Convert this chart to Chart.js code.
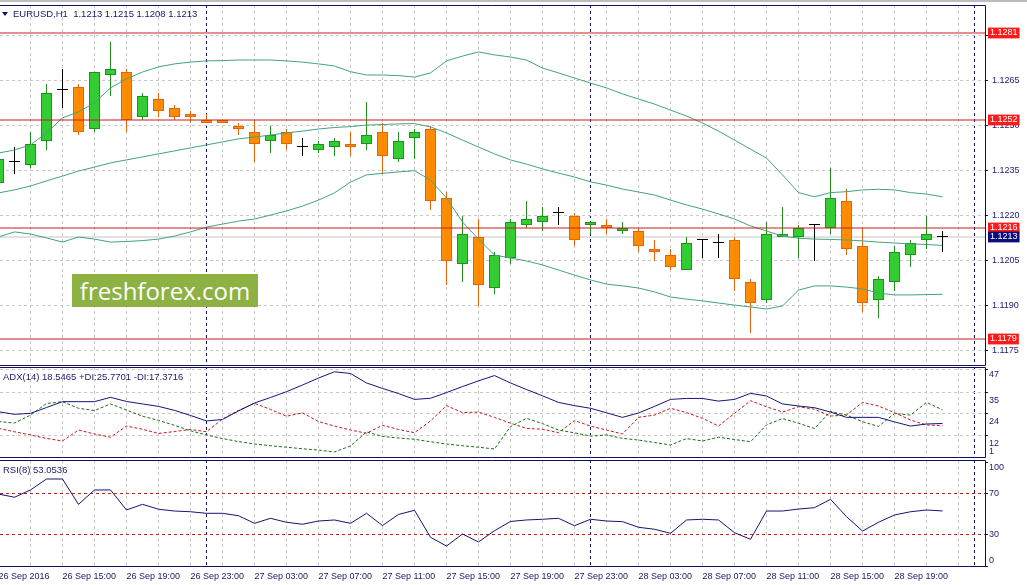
<!DOCTYPE html>
<html><head><meta charset="utf-8">
<script src="https://cdn.jsdelivr.net/npm/chart.js@4.4.1/dist/chart.umd.min.js"></script>
<style>
html,body{margin:0;padding:0;background:#fff;width:1027px;height:585px;overflow:hidden}
.pane{position:absolute;left:0}
canvas{display:block}
.cap{position:absolute;font:9.5px 'Liberation Sans',Arial,sans-serif;color:#1a1a6a;white-space:nowrap;line-height:11px}
</style></head><body>
<div style="position:absolute;left:0;top:0;width:1027px;height:2px;background:#bcbcbc"></div>
<div class="pane" style="top:0"><canvas id="main" width="1027" height="366"></canvas></div>
<div class="pane" style="top:366px"><canvas id="adx" width="1027" height="92"></canvas></div>
<div class="pane" style="top:458px"><canvas id="rsi" width="1027" height="127"></canvas></div>
<div style="position:absolute;left:2px;top:12px;width:0;height:0;border-left:3px solid transparent;border-right:3px solid transparent;border-top:4px solid #10105e"></div>
<div class="cap" style="left:13px;top:8px">EURUSD,H1&nbsp; 1.1213 1.1215 1.1208 1.1213</div>
<div class="cap" style="left:3px;top:371px">ADX(14) 18.5465 +DI:25.7701 -DI:17.3716</div>
<div class="cap" style="left:3px;top:464px">RSI(8) 53.0536</div>
<div style="position:absolute;left:72px;top:274px;width:186px;height:33px;background:#8db142;color:#fff;font:24px 'Open Sans',sans-serif;line-height:33px;text-align:center">freshforex.com</div>
<script>
// ---------- data ----------
const TIME_LABELS = ['26 Sep 2016','26 Sep 15:00','26 Sep 19:00','26 Sep 23:00','27 Sep 03:00','27 Sep 07:00','27 Sep 11:00','27 Sep 15:00','27 Sep 19:00','27 Sep 23:00','28 Sep 03:00','28 Sep 07:00','28 Sep 11:00','28 Sep 15:00','28 Sep 19:00'];
const OPEN  = [1.1231,1.1238,1.1237,1.1245,1.1262,1.1263,1.1249,1.1267,1.1268,1.1253,1.1259,1.1256,1.1254,1.1252,1.1252,1.1250,1.1248,1.1245,1.1248,1.1243,1.1242,1.1243,1.1244,1.1244,1.1248,1.1239,1.1246,1.1249,1.1226,1.1204,1.1213,1.1196,1.1206,1.1217,1.1218,1.1221,1.1220,1.1217,1.1217,1.1215,1.1215,1.1209,1.1207,1.1202,1.1212,1.1211,1.1212,1.1198,1.1192,1.1213,1.1213,1.1217,1.1216,1.1225,1.1210,1.1192,1.1198,1.1207,1.1212,1.1213];
const HIGH  = [1.1241,1.1243,1.1248,1.1264,1.1269,1.1264,1.1268,1.1278,1.1269,1.1261,1.1261,1.1257,1.1255,1.1254,1.1252,1.1251,1.1252,1.1250,1.1249,1.1246,1.1245,1.1246,1.1248,1.1258,1.1251,1.1248,1.1249,1.1250,1.1228,1.1220,1.1219,1.1208,1.1219,1.1225,1.1223,1.1223,1.1221,1.1218,1.1219,1.1218,1.1216,1.1212,1.1209,1.1213,1.1212,1.1214,1.1213,1.1199,1.1218,1.1223,1.1217,1.1217,1.1236,1.1229,1.1216,1.1200,1.1210,1.1212,1.1220,1.1215];
const LOW   = [1.1230,1.1234,1.1236,1.1242,1.1256,1.1247,1.1248,1.1260,1.1248,1.1252,1.1253,1.1252,1.1251,1.1251,1.1251,1.1247,1.1238,1.1241,1.1242,1.1240,1.1241,1.1240,1.1240,1.1242,1.1234,1.1238,1.1239,1.1222,1.1197,1.1198,1.1190,1.1194,1.1204,1.1216,1.1215,1.1217,1.1210,1.1214,1.1214,1.1214,1.1208,1.1205,1.1202,1.1202,1.1206,1.1206,1.1195,1.1181,1.1191,1.1213,1.1206,1.1205,1.1214,1.1207,1.1188,1.1186,1.1195,1.1203,1.1209,1.1208];
const CLOSE = [1.1239,1.1238,1.1244,1.1261,1.1262,1.1248,1.1268,1.1269,1.1252,1.1260,1.1255,1.1253,1.1253,1.1251,1.1251,1.1249,1.1244,1.1247,1.1244,1.1243,1.1244,1.1245,1.1243,1.1247,1.1240,1.1245,1.1248,1.1225,1.1205,1.1214,1.1197,1.1207,1.1218,1.1219,1.1220,1.1221,1.1212,1.1218,1.1216,1.1216,1.1210,1.1208,1.1203,1.1211,1.1212,1.1211,1.1199,1.1191,1.1214,1.1214,1.1216,1.1217,1.1226,1.1209,1.1191,1.1199,1.1208,1.1211,1.1214,1.1213];
const BB_UPPER  = [1.12410,1.12420,1.12437,1.12477,1.12527,1.12547,1.12577,1.12627,1.12657,1.12680,1.12697,1.12707,1.12713,1.12717,1.12718,1.12720,1.12720,1.12720,1.12717,1.12713,1.12707,1.12700,1.12681,1.12670,1.12670,1.12668,1.12663,1.12677,1.12717,1.12733,1.12747,1.12737,1.12730,1.12720,1.12693,1.12677,1.12660,1.12643,1.12627,1.12607,1.12590,1.12573,1.12553,1.12533,1.12510,1.12483,1.12453,1.12423,1.12393,1.12337,1.12278,1.12264,1.12278,1.12281,1.12287,1.12289,1.12287,1.12278,1.12273,1.12264];
const BB_MIDDLE = [1.12277,1.12287,1.12300,1.12317,1.12333,1.12350,1.12363,1.12377,1.12387,1.12397,1.12407,1.12417,1.12427,1.12437,1.12447,1.12457,1.12463,1.12470,1.12477,1.12483,1.12490,1.12495,1.12498,1.12503,1.12505,1.12507,1.12508,1.12497,1.12477,1.12453,1.12430,1.12407,1.12387,1.12373,1.12357,1.12343,1.12330,1.12314,1.12303,1.12290,1.12280,1.12270,1.12253,1.12237,1.12223,1.12207,1.12190,1.12167,1.12150,1.12133,1.12126,1.12123,1.12122,1.12120,1.12117,1.12113,1.12110,1.12107,1.12105,1.12102];
const BB_LOWER  = [1.12130,1.12147,1.12140,1.12127,1.12113,1.12130,1.12123,1.12113,1.12115,1.12118,1.12123,1.12133,1.12147,1.12163,1.12173,1.12183,1.12190,1.12203,1.12217,1.12233,1.12253,1.12277,1.12313,1.12337,1.12342,1.12347,1.12351,1.12320,1.12260,1.12180,1.12123,1.12070,1.12060,1.12050,1.12037,1.12020,1.12003,1.11987,1.11973,1.11967,1.11960,1.11947,1.11930,1.11923,1.11917,1.11910,1.11903,1.11897,1.11890,1.11900,1.11953,1.11967,1.11967,1.11963,1.11957,1.11943,1.11937,1.11937,1.11938,1.11939];
const ADX_LINE = [24.8,23.4,23.9,27.0,30.1,30.1,30.1,32.4,30.2,28.9,27.6,25.5,22.8,19.9,20.7,25.2,29.4,32.3,35.4,38.9,42.6,45.9,45.0,40.0,37.1,34.4,31.3,31.9,34.9,38.1,41.1,43.9,40.0,36.5,33.2,29.7,28.0,26.6,24.2,21.8,24.1,27.6,31.3,31.8,31.8,30.4,31.3,34.5,33.1,28.9,27.8,26.9,24.6,21.8,21.8,21.8,19.4,17.2,18.3,18.55];
const PLUS_DI  = [19.6,18.8,23.0,29.1,30.1,26.6,25.4,28.9,25.7,22.4,20.2,17.6,14.7,12.5,10.6,9.0,7.7,6.8,6.0,5.2,4.5,3.5,6.7,14.1,11.7,10.9,10.2,8.9,7.7,6.8,6.0,5.1,16.9,21.3,18.5,15.1,13.6,11.9,12.5,10.7,9.8,8.5,7.2,10.6,9.3,11.3,10.1,8.9,17.8,21.2,18.7,15.9,24.9,23.0,19.5,17.0,23.8,23.0,29.7,25.77];
const MINUS_DI = [16.0,14.2,12.5,10.7,9.3,15.1,13.0,11.3,17.2,15.5,13.3,14.3,15.4,14.2,20.9,25.5,29.2,26.0,22.4,24.2,19.6,17.2,15.1,13.4,17.6,15.4,13.7,19.9,28.0,24.3,24.6,21.8,18.7,16.0,15.5,13.7,20.1,17.2,15.1,13.0,21.8,23.0,26.6,24.3,21.3,17.2,23.9,30.6,27.4,24.6,27.4,26.1,22.5,23.0,29.7,27.8,24.3,20.4,17.8,17.37];
const RSI_LINE = [69.3,66.2,73.2,83.7,83.7,59.4,73.2,73.2,54.0,59.4,54.7,53.0,52.3,50.8,50.8,48.5,41.2,46.0,42.2,40.3,43.4,44.4,41.2,50.8,39.1,49.7,53.7,27.8,19.4,31.0,23.3,34.1,43.0,44.4,45.1,46.0,38.9,45.1,43.4,42.8,37.4,35.5,31.6,44.4,45.1,44.4,32.2,25.9,53.0,53.0,54.9,56.2,64.2,47.6,33.8,42.2,49.2,52.3,54.0,53.05];
const PRICE_TICKS = [1.1175,1.1190,1.1205,1.1220,1.1235,1.1250,1.1265,1.1280];
const LEVELS = [1.1281,1.1252,1.1216,1.1179];
const BID = 1.1213;
const ADX_TICKS = [47,35,24,12];
const ADX_BOTTOM_LABEL = [1];
const RSI_TICKS = [100,70,30,0];
const RSI_LEVELS = [70,30];
const DAY_STARTS = [13,37,61];   // bar index of each 00:00

// ---------- styles / geometry ----------
const NAVY = '#10105e', TEXT = '#1a1a6a', GRID = '#c8c8c8', BAND = '#45a27c', LEVEL = '#c81e1e';
const FONT = {family: "'Liberation Sans', Arial, sans-serif", size: 9};
const X_MIN = 0.09375, X_MAX = 61.65625;
const PY_MAX = 1.1290333333, PY_MIN = 1.1170;
const ADX_MAX = 48.43, ADX_MIN = 0.31;
const RSI_MAX = 101.94, RSI_MIN = -0.7;

Chart.defaults.font.family = FONT.family;

// linear scale whose tick labels are not clipped to its own (zero-width) box
class FreeLinearScale extends Chart.LinearScale {
  _computeLabelArea() { return undefined; }
}
FreeLinearScale.id = 'freeLinear';
FreeLinearScale.defaults = Chart.LinearScale.defaults;
Chart.register(FreeLinearScale);

function zeroPad(s){ s.paddingLeft = s.paddingRight = s.paddingTop = s.paddingBottom = 0; }
function setTicks(vals){ return s => { s.ticks = vals.map(v => ({value: v})); }; }
const EVEN = []; for (let i = 2; i <= 60; i += 2) EVEN.push(i);

function xGridAxis(vals, color){
  return {type:'linear', min:X_MIN, max:X_MAX, offset:false, position:'bottom', weight:0,
    grid:{color, drawTicks:false, offset:false, lineWidth:1},
    border:{display:false, dash:[3,3]},
    ticks:{display:false},
    afterBuildTicks:setTicks(vals), afterFit:s => { s.height = 0; zeroPad(s); }};
}
function yLabelAxis(min, max, vals, offset){
  return {type:'freeLinear', position:'right', weight:0, min, max,
    grid:{display:false, drawTicks:false}, border:{display:false},
    ticks:{padding:4, labelOffset:offset, autoSkip:false, color:TEXT, font:FONT, callback:v => String(v)},
    afterBuildTicks:setTicks(vals), afterFit:s => { s.width = 0; zeroPad(s); }};
}
function yMainAxis(min, max, vals, extra){
  return Object.assign({type:'linear', position:'right', weight:10, min, max,
    grid:{color:GRID, drawTicks:true, tickLength:3, tickColor:NAVY, tickBorderDash:[]},
    border:{display:false, dash:[3,3]},
    ticks:{display:false},
    afterBuildTicks:setTicks(vals), afterFit:s => { s.width = 42; zeroPad(s); }}, extra || {});
}
const framePlugin = {
  id:'frame',
  afterDraw(chart){
    const {ctx, chartArea:a} = chart;
    ctx.save(); ctx.strokeStyle = NAVY; ctx.lineWidth = 1; ctx.setLineDash([]);
    ctx.beginPath();
    ctx.moveTo(0, a.top + 0.5); ctx.lineTo(a.right + 0.5, a.top + 0.5);
    ctx.lineTo(a.right + 0.5, a.bottom - 0.5); ctx.lineTo(0, a.bottom - 0.5);
    ctx.stroke(); ctx.restore();
  }
};
const base = {responsive:false, animation:false, devicePixelRatio:1, events:[],
  plugins:{legend:{display:false}, tooltip:{enabled:false}}};

// ---------- main price chart ----------
const idx = OPEN.map((_, i) => i);
const dir = i => CLOSE[i] > OPEN[i] ? 1 : (CLOSE[i] < OPEN[i] ? -1 : 0);
const FILL = {1:'#32cd32', '-1':'#ff8c00', 0:'#000000'};
const EDGE = {1:'#22901f', '-1':'#e3640d', 0:'#000000'};
const pts = arr => arr.map((v, i) => ({x:i, y:v}));
const hline = v => [{x:X_MIN, y:v}, {x:X_MAX, y:v}];

const mainDatasets = [];
LEVELS.forEach(l => mainDatasets.push({type:'line', data:hline(l), borderColor:LEVEL, borderWidth:1, pointRadius:0, order:0, xAxisID:'x', yAxisID:'y'}));
[BB_UPPER, BB_MIDDLE, BB_LOWER].forEach(b => mainDatasets.push({type:'line', data:pts(b), borderColor:BAND, borderWidth:1, pointRadius:0, tension:0, order:1, xAxisID:'x', yAxisID:'y'}));
mainDatasets.push({type:'bar', data:idx.map(i => ({x:i, y:[OPEN[i], CLOSE[i]]})),
  backgroundColor:c => FILL[dir(c.dataIndex)], borderColor:c => EDGE[dir(c.dataIndex)],
  borderWidth:1, borderSkipped:false, barThickness:11, grouped:false, minBarLength:1, inflateAmount:0, order:2, xAxisID:'x', yAxisID:'y'});
mainDatasets.push({type:'bar', data:idx.map(i => ({x:i, y:[LOW[i], HIGH[i]]})),
  backgroundColor:c => EDGE[dir(c.dataIndex)], borderWidth:0, barThickness:1, grouped:false, inflateAmount:0, order:3, xAxisID:'x', yAxisID:'y'});
mainDatasets.push({type:'line', data:hline(BID), borderColor:'#c4c4c4', borderWidth:1, pointRadius:0, order:4, xAxisID:'x', yAxisID:'y'});

new Chart(document.getElementById('main'), {
  type:'bar',
  data:{datasets:mainDatasets},
  options:Object.assign({}, base, {
    layout:{padding:{top:5, left:0, right:0, bottom:0}},
    scales:{
      x:xGridAxis(EVEN, GRID),
      xs:xGridAxis(DAY_STARTS, NAVY),
      y:yMainAxis(PY_MIN, PY_MAX, PRICE_TICKS, {
        ticks:{display:true, padding:4, autoSkip:false, color:TEXT, font:FONT, callback:v => v.toFixed(4)}}),
      yTags:{type:'freeLinear', position:'right', weight:0, min:PY_MIN, max:PY_MAX,
        grid:{display:false, drawTicks:false}, border:{display:false},
        ticks:{padding:5, autoSkip:false, color:'#ffffff', font:FONT, showLabelBackdrop:true,
          backdropColor:c => (c.tick && c.tick.value === BID) ? '#0c0c7a' : '#ff1a1a',
          backdropPadding:{top:0, bottom:0, left:2, right:2}, z:2, callback:v => v.toFixed(4)},
        afterBuildTicks:setTicks(LEVELS.concat([BID])), afterFit:s => { s.width = 0; zeroPad(s); }}
    }
  }),
  plugins:[framePlugin]
});

// ---------- ADX panel ----------
new Chart(document.getElementById('adx'), {
  type:'line',
  data:{datasets:[
    {data:pts(ADX_LINE), borderColor:'#14147a', borderWidth:1, pointRadius:0, tension:0, xAxisID:'x', yAxisID:'y'},
    {data:pts(PLUS_DI), borderColor:'#127012', borderWidth:1, borderDash:[3,2], pointRadius:0, tension:0, xAxisID:'x', yAxisID:'y'},
    {data:pts(MINUS_DI), borderColor:'#c41a1a', borderWidth:1, borderDash:[3,2], pointRadius:0, tension:0, xAxisID:'x', yAxisID:'y'}
  ]},
  options:Object.assign({}, base, {
    layout:{padding:{top:1, left:0, right:0, bottom:0}},
    scales:{
      x:xGridAxis(EVEN, GRID),
      xs:xGridAxis(DAY_STARTS, NAVY),
      y:yMainAxis(ADX_MIN, ADX_MAX, ADX_TICKS),
      l1:yLabelAxis(ADX_MIN, ADX_MAX, ADX_TICKS.slice(1), 8),
      l2:yLabelAxis(ADX_MIN, ADX_MAX, ADX_TICKS.slice(0,1), 5),
      l3:yLabelAxis(ADX_MIN, ADX_MAX, ADX_BOTTOM_LABEL, -5)
    }
  }),
  plugins:[framePlugin]
});

// ---------- RSI panel ----------
new Chart(document.getElementById('rsi'), {
  type:'line',
  data:{datasets:[
    {data:pts(RSI_LINE), borderColor:'#14146e', borderWidth:1, pointRadius:0, tension:0, xAxisID:'x', yAxisID:'y'}
  ]},
  options:Object.assign({}, base, {
    layout:{padding:{top:2, left:0, right:0, bottom:0}},
    scales:{
      x:{type:'linear', min:X_MIN, max:X_MAX, offset:false, position:'bottom', weight:1,
        grid:{display:false, drawTicks:false}, border:{display:false},
        ticks:{autoSkip:false, maxRotation:0, minRotation:0, align:'start', padding:4, color:TEXT, font:FONT,
          callback:v => TIME_LABELS[v / 4]},
        afterBuildTicks:setTicks(TIME_LABELS.map((_, k) => k * 4)), afterFit:s => { s.height = 18; zeroPad(s); }},
      xg:xGridAxis(EVEN, GRID),
      xs:xGridAxis(DAY_STARTS, NAVY),
      y:yMainAxis(RSI_MIN, RSI_MAX, RSI_TICKS, {
        grid:{color:c => (c.tick && RSI_LEVELS.includes(c.tick.value)) ? LEVEL : 'rgba(0,0,0,0)',
          drawTicks:true, tickLength:3, tickColor:NAVY, tickBorderDash:[]}}),
      l1:yLabelAxis(RSI_MIN, RSI_MAX, RSI_LEVELS, 0),
      l2:yLabelAxis(RSI_MIN, RSI_MAX, RSI_TICKS.slice(0,1), 5),
      l3:yLabelAxis(RSI_MIN, RSI_MAX, RSI_TICKS.slice(3), -6)
    }
  }),
  plugins:[framePlugin]
});
</script>
</body></html>
